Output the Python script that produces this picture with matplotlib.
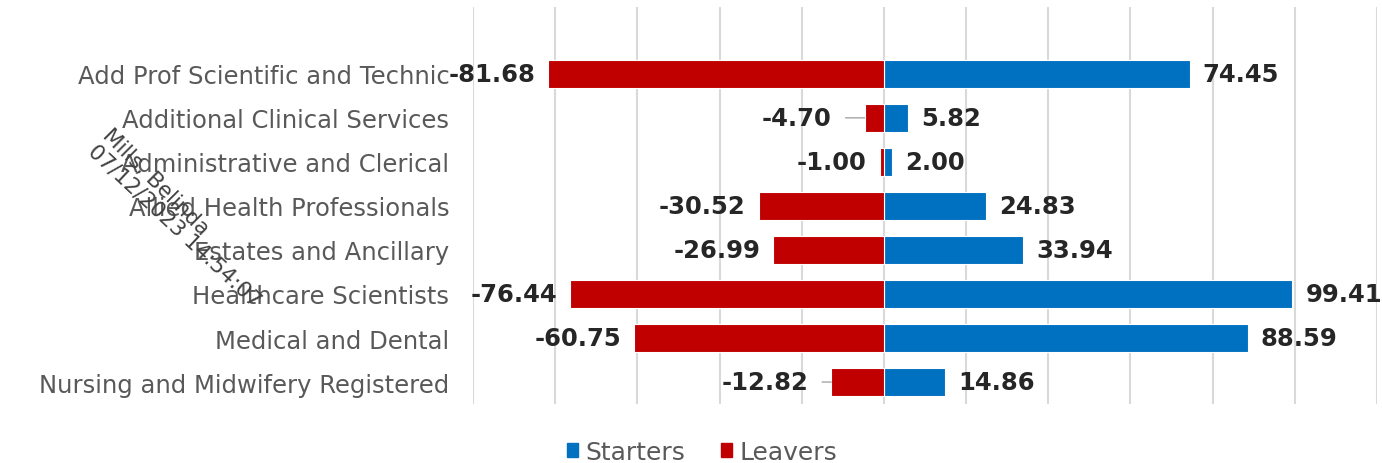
import matplotlib
matplotlib.use("Agg")
from matplotlib import pyplot as plt
from matplotlib.patches import Patch

# staff groups, top to bottom
groups = [
    "Add Prof Scientific and Technic",
    "Additional Clinical Services",
    "Administrative and Clerical",
    "Allied Health Professionals",
    "Estates and Ancillary",
    "Healthcare Scientists",
    "Medical and Dental",
    "Nursing and Midwifery Registered",
]
starters = [74.45, 5.82, 2.00, 24.83, 33.94, 99.41, 88.59, 14.86]
leavers = [-81.68, -4.70, -1.00, -30.52, -26.99, -76.44, -60.75, -12.82]

BLUE = "#0070C0"
RED = "#C00000"
GREY = "#595959"

# labels pushed out with a little leader line (pixels)
leader_pad = {"Additional Clinical Services": 33,
              "Nursing and Midwifery Registered": 23}

fig = plt.figure(figsize=(13.82, 4.64), dpi=100)
ax = fig.add_axes([0.3423, 0.127, 0.6541, 0.856])

rows = list(range(len(groups)))
ax.barh(rows, starters, height=0.64, color=BLUE, edgecolor="white", linewidth=0.8, zorder=3)
ax.barh(rows, leavers, height=0.64, color=RED, edgecolor="white", linewidth=0.8, zorder=3)

vfont = dict(fontsize=17.5, fontweight="bold", color="#262626", zorder=4)
for i, g in enumerate(groups):
    ax.annotate(f"{starters[i]:.2f}", xy=(starters[i], i), xytext=(13, 0),
                textcoords="offset pixels", ha="left", va="center", **vfont)
    if g in leader_pad:
        ax.annotate(f"{leavers[i]:.2f}", xy=(leavers[i], i), xytext=(-leader_pad[g], 0),
                    textcoords="offset pixels", ha="right", va="center", **vfont,
                    arrowprops=dict(arrowstyle="-", color="#A6A6A6", lw=1,
                                    shrinkA=8, shrinkB=0))
    else:
        ax.annotate(f"{leavers[i]:.2f}", xy=(leavers[i], i), xytext=(-13, 0),
                    textcoords="offset pixels", ha="right", va="center", **vfont)

ax.set_xlim(-100, 120)
ax.set_ylim(7.5, -1.52)
ax.set_xticks(range(-100, 121, 20))
ax.set_xticklabels([])
ax.set_yticks(rows)
ax.set_yticklabels(groups, fontsize=17.5, color=GREY)
ax.tick_params(axis="both", length=0)
ax.tick_params(axis="y", pad=17)
ax.grid(axis="x", color="#D9D9D9", linewidth=1.5, zorder=0)
for s in ax.spines.values():
    s.set_visible(False)

handles = [Patch(color=BLUE, label="Starters"), Patch(color=RED, label="Leavers")]
fig.legend(handles=handles, loc="center", bbox_to_anchor=(0.508, 0.024), ncol=2,
           frameon=False, fontsize=18, labelcolor=GREY, handlelength=0.45,
           handleheight=0.45, handletextpad=0.3, columnspacing=1.4)

# print stamp across the labels
fig.text(101 / 1382, 1 - 137 / 464, "Mills, Belinda", rotation=-45, rotation_mode="anchor",
         ha="left", va="baseline", fontsize=15.5, color="#404040")
fig.text(87 / 1382, 1 - 153 / 464, "07/12/2023 14:54:07", rotation=-43, rotation_mode="anchor",
         ha="left", va="baseline", fontsize=15.5, color="#404040")

fig.savefig("out.png", dpi=100)
